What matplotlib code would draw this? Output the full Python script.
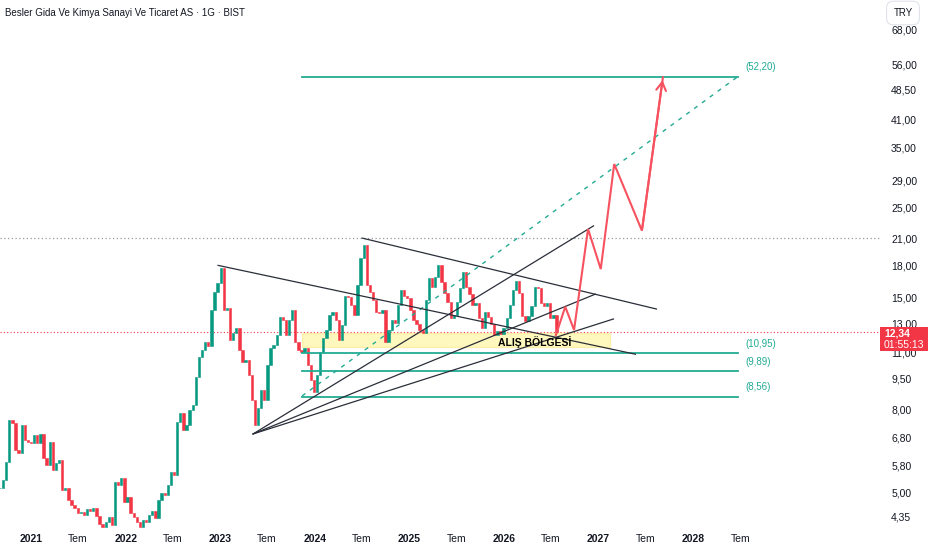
import numpy as np
import pandas as pd
import matplotlib
matplotlib.use("Agg")
import matplotlib.pyplot as plt  # noqa: E402
from matplotlib.patches import Rectangle  # noqa: E402

plt.rcParams["font.family"] = ["Liberation Sans", "DejaVu Sans"]

# ~12-day candles, BSLR-like price path (TRY)
START = "2020-09-03"
closes = [
    5.12, 5.36, 5.93, 7.52, 7.41, 6.35, 6.25, 7.31, 6.71, 6.64,
    6.60, 6.91, 6.60, 6.95, 6.07, 5.83, 6.64, 5.67, 5.90, 6.00,
    5.06, 5.12, 4.79, 4.65, 4.57, 4.44, 4.47, 4.40, 4.55, 4.50,
    4.58, 4.38, 4.19, 4.12, 4.23, 4.35, 4.16, 5.30, 5.21, 5.42,
    4.73, 4.87, 4.44, 4.35, 4.23, 4.12, 4.28, 4.23, 4.40, 4.50,
    4.33, 4.79, 4.97, 4.92, 5.21, 5.61, 5.50, 7.44, 7.81, 7.10,
    7.31, 7.95, 8.18, 9.58, 10.73, 11.16, 11.68, 11.40, 13.99, 15.49,
    16.27, 17.73, 13.99, 14.19, 11.81, 12.29, 12.64, 11.16, 10.43, 10.55,
    9.69, 8.42, 7.31, 8.04, 8.91, 8.42, 10.26, 11.29, 11.48, 12.15,
    13.45, 13.22, 12.15, 13.22, 13.99, 11.68, 11.16, 11.04, 11.30, 10.26,
    9.42, 8.81, 9.69, 11.04, 11.95, 12.50, 13.60, 13.80, 13.22, 11.81,
    12.86, 15.14, 15.06, 14.39, 13.60, 16.11, 18.75, 20.19, 16.11, 15.49,
    14.80, 13.80, 13.72, 14.00, 11.68, 12.50, 13.22, 13.00, 14.39, 15.66,
    15.14, 14.97, 13.99, 13.22, 12.93, 12.50, 12.29, 14.80, 16.76, 15.92,
    16.86, 18.04, 16.38, 15.40, 14.64, 13.37, 13.60, 14.64, 15.82, 17.34,
    15.92, 15.31, 14.39, 14.56, 13.37, 12.64, 13.80, 13.45, 12.93, 12.15,
    12.43, 12.22, 12.64, 13.37, 14.39, 15.66, 16.48, 15.40, 13.52, 13.15,
    13.52, 14.31, 15.92, 15.82, 14.56, 14.31, 14.56, 13.37, 13.60, 12.34,
]
LAST_PRICE = 12.34

# drawings
trend_a_dates = ["2022-12-24", "2027-05-23"]
trend_a_prices = [18.0, 10.9]
trend_b_dates = ["2024-07-02", "2027-08-12"]
trend_b_prices = [21.0, 14.07]
fan_origin_date = "2023-05-08"
fan_origin_price = 6.95
fan_end_dates = ["2026-12-12", "2026-12-19", "2027-02-27"]
fan_end_prices = [22.5, 15.3, 13.3]

levels = [52.20, 10.95, 9.89, 8.56]
level_labels = ["(52,20)", "(10,95)", "(9,89)", "(8,56)"]
level_start, level_end = "2023-11-13", "2028-06-20"
dashed_dates = ["2023-11-13", "2028-06-20"]
dashed_prices = [8.61, 52.2]

zone_dates = ["2023-11-13", "2027-02-15"]
zone_prices = [11.38, 12.28]
zone_label = "ALIŞ BÖLGESİ"
zone_label_at = ("2026-04-28", 11.70)

proj_dates = ["2026-07-20", "2026-08-25", "2026-09-28", "2026-11-21",
              "2027-01-09", "2027-03-02", "2027-06-17", "2027-09-06"]
proj_prices = [12.15, 14.25, 12.50, 22.1, 17.63, 31.9, 21.9, 52.06]

resistance = 21.0

yticks = [68, 56, 48.5, 41, 35, 29, 25, 21, 18, 15, 13, 11, 9.5, 8, 6.8, 5.8, 5, 4.35]
xtick_years = list(range(2021, 2029))

GREEN, RED = "#089981", "#F23645"
TEAL = "#22ab94"
TXT = "#131722"


def ts(s):
    return pd.Timestamp(s)


def main():
    fig = plt.figure(figsize=(9.32, 5.5), dpi=100)
    ax = fig.add_axes([0, 22 / 550, 880 / 932, 528 / 550])

    dates = pd.date_range(START, periods=len(closes), freq="12D")
    c = np.array(closes)
    o = np.r_[c[0], c[:-1]]
    cols = [GREEN if cc >= oo else RED for oo, cc in zip(o, c)]
    ax.bar(dates, c - o, bottom=o, width=9, color=cols, edgecolor=cols,
           linewidth=0.4, zorder=3)

    ax.set_yscale("log")
    ax.set_ylim(4.086, 80.55)
    ax.set_xlim(ts("2020-09-03"), ts("2029-12-22"))

    # horizontal references
    ax.axhline(resistance, color="#9598a1", lw=0.9, ls=(0, (1, 2)), zorder=1)
    ax.axhline(LAST_PRICE, color=RED, lw=0.8, ls=(0, (1, 2)), zorder=1)

    # buy zone
    z0, z1 = ts(zone_dates[0]), ts(zone_dates[1])
    ax.add_patch(Rectangle((z0, zone_prices[0]), z1 - z0, zone_prices[1] - zone_prices[0],
                           facecolor="#ffeb3b", alpha=0.33, edgecolor="#f5d742", lw=1, zorder=2))
    ax.text(ts(zone_label_at[0]), zone_label_at[1], zone_label, ha="center", va="center",
            fontsize=7.5, fontweight="bold", color="black", zorder=6)

    # levels
    for lv, lab in zip(levels, level_labels):
        ax.plot([ts(level_start), ts(level_end)], [lv, lv], color=TEAL, lw=1.3, zorder=4)
        ax.annotate(lab, (ts(level_end), lv), xytext=(6, 7), textcoords="offset points",
                    color=TEAL, fontsize=7, va="center", ha="left")
    ax.plot([ts(d) for d in dashed_dates], dashed_prices, color=TEAL, lw=1,
            ls=(0, (3, 4)), zorder=4)

    # trend lines
    line_kw = dict(color="#2a2e39", lw=0.9, zorder=5)
    ax.plot([ts(d) for d in trend_a_dates], trend_a_prices, **line_kw)
    ax.plot([ts(d) for d in trend_b_dates], trend_b_prices, **line_kw)
    for d, p in zip(fan_end_dates, fan_end_prices):
        ax.plot([ts(fan_origin_date), ts(d)], [fan_origin_price, p], **line_kw)

    # projection
    pdts = [ts(d) for d in proj_dates]
    ax.plot(pdts, proj_prices, color="#F7525F", lw=1.5, zorder=6, solid_joinstyle="miter")
    ax.annotate("", xy=(pdts[-1], proj_prices[-1]), xytext=(pdts[-2], proj_prices[-2]),
                arrowprops=dict(arrowstyle="->,head_length=0.6,head_width=0.35",
                                color="#F7525F", lw=1.5), zorder=6)

    # axes styling
    for s in ax.spines.values():
        s.set_visible(False)
    ax.yaxis.tick_right()
    ax.set_yticks(yticks)
    ax.set_yticklabels([f"{v:.2f}".replace(".", ",") for v in yticks])
    ax.yaxis.set_minor_locator(matplotlib.ticker.NullLocator())
    ax.tick_params(axis="y", length=0, pad=8, labelsize=7.5, labelcolor=TXT)

    xt, xl = [], []
    for y in xtick_years:
        xt += [ts(f"{y}-01-01"), ts(f"{y}-07-01")]
        xl += [str(y), "Tem"]
    ax.set_xticks(xt)
    ax.set_xticklabels(xl)
    ax.tick_params(axis="x", length=0, pad=4, labelsize=7.5, labelcolor=TXT)
    for t in ax.get_xticklabels():
        if t.get_text() != "Tem":
            t.set_fontweight("bold")

    # header / price box
    fig.text(5 / 932, 1 - 13 / 550, "Besler Gida Ve Kimya Sanayi Ve Ticaret AS · 1G · BIST",
             fontsize=7, color=TXT, va="center", ha="left")
    fig.text(903 / 932, 1 - 13 / 550, "TRY", fontsize=7, color=TXT, ha="center", va="center",
             bbox=dict(boxstyle="round,pad=0.7", fc="white", ec="#e0e3eb", lw=0.8))
    fig.patches.append(Rectangle((880 / 932, 1 - 351 / 550), 48 / 932, 24 / 550,
                                 transform=fig.transFigure, facecolor=RED, edgecolor="none",
                                 zorder=10))
    fig.text(884 / 932, 1 - 333 / 550, f"{LAST_PRICE:.2f}".replace(".", ","), color="white",
             fontsize=7.5, fontweight="bold", va="center", ha="left", zorder=11)
    fig.text(884 / 932, 1 - 345 / 550, "01:55:13", color="white", fontsize=7.5,
             va="center", ha="left", zorder=11)

    fig.savefig("out.png", dpi=100)


if __name__ == "__main__":
    main()
